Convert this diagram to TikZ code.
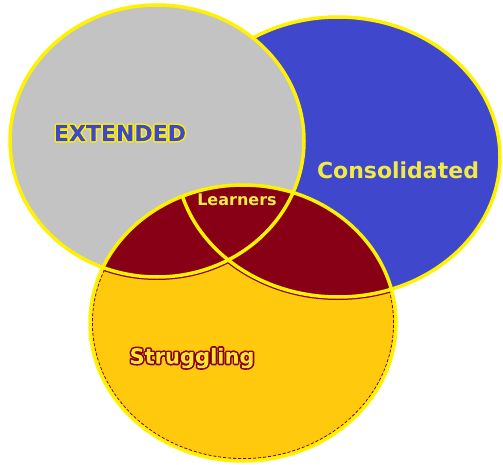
\documentclass[tikz,border=0pt]{standalone}
\usepackage{fontspec}
\setmainfont{DejaVu Sans}
\definecolor{cgray}{HTML}{C3C3C3}
\definecolor{cblue}{HTML}{3F48CC}
\definecolor{cgold}{HTML}{FFC90E}
\definecolor{cmaroon}{HTML}{880015}
\definecolor{cline}{HTML}{FFF200}
\definecolor{ctext}{HTML}{F0EA48}
\definecolor{cstext}{HTML}{FFE530}
% text with a halo: fill+stroke+clip (6 Tr), then refill the glyph area
\newcommand\haloed[4]{\special{pdf:code q}\special{pdf:literal direct #1 RG 1 j 6 Tr #2 w}#4\special{pdf:code 0 Tr #3 rg -3000 -3000 6000 6000 re f Q}}
\tikzset{
  outline/.style={draw=cline, line width=3.5pt},
  lbl/.style={font=\bfseries\fontsize{#1}{#1}\selectfont, inner sep=0pt},
}
\begin{document}
\begin{tikzpicture}[x=1pt,y=-1pt]
\useasboundingbox (0,0) rectangle (503,465);
\def\ecirc{(157,141) ellipse [x radius=147pt, y radius=136pt]}
\def\ccirc{(338,157) ellipse [x radius=162pt, y radius=140pt]}
\def\scirc{(243,323) ellipse [x radius=153pt, y radius=138pt]}
% Consolidated
\fill[cblue] \ccirc;
\draw[outline] \ccirc;
% Extended
\fill[cgray] \ecirc;
\draw[outline] \ecirc;
% Struggling
\fill[cgold] \scirc;
\draw[cmaroon, line width=0.9pt, densely dashed] (243,323) ellipse [x radius=150.6pt, y radius=135.6pt];
% overlaps
\begin{scope}
  \clip \scirc;
  \fill[cmaroon] \ecirc;
  \fill[cmaroon] \ccirc;
  \draw[cmaroon, line width=6pt] \ecirc;
  \draw[cmaroon, line width=6pt] \ccirc;
  \draw[outline] \ecirc;
  \draw[outline] \ccirc;
\end{scope}
\draw[outline] \scirc;
% labels
\node[lbl=22, text=cblue] (ext) at (120,133) {\haloed{1 0.949 0}{3}{0.247 0.282 0.8}{EXTENDED}};
\node[lbl=16, text=ctext] (lrn) at (237,200) {Learners};
\node[lbl=21, text=cstext] (str) at (192,358) {\haloed{0.533 0 0.082}{3.2}{1 0.898 0.188}{Struggling}};
\node[lbl=22, text=ctext] (con) at (398,170) {Consolidated};
\end{tikzpicture}
\end{document}
